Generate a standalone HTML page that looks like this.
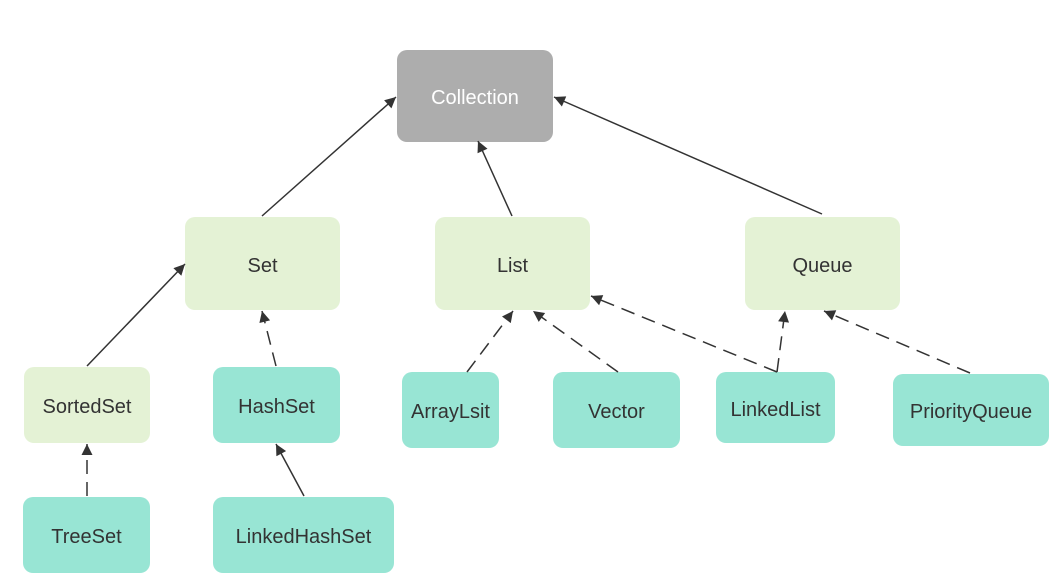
<!DOCTYPE html>
<html><head><style>
body{margin:0;width:1064px;height:583px;background:#fff;position:relative;overflow:hidden;font-family:"Liberation Sans",sans-serif}
.n{position:absolute;border-radius:10px;display:flex;align-items:center;justify-content:center;font-size:20px;color:#333;box-sizing:border-box;padding-top:5px}
.g{background:#e4f2d5}.t{background:#98e5d4}
svg{position:absolute;left:0;top:0}
</style></head><body>
<div class="n" style="left:397px;top:50px;width:156px;height:92px;background:#adadad;color:#fff">Collection</div>
<div class="n g" style="left:185px;top:217px;width:155px;height:93px">Set</div>
<div class="n g" style="left:435px;top:217px;width:155px;height:93px">List</div>
<div class="n g" style="left:745px;top:217px;width:155px;height:93px">Queue</div>
<div class="n g" style="left:24px;top:367px;width:126px;height:76px">SortedSet</div>
<div class="n t" style="left:213px;top:367px;width:127px;height:76px">HashSet</div>
<div class="n t" style="left:23px;top:497px;width:127px;height:76px">TreeSet</div>
<div class="n t" style="left:213px;top:497px;width:181px;height:76px">LinkedHashSet</div>
<div class="n t" style="left:402px;top:372px;width:97px;height:76px">ArrayLsit</div>
<div class="n t" style="left:553px;top:372px;width:127px;height:76px">Vector</div>
<div class="n t" style="left:716px;top:372px;width:119px;height:71px">LinkedList</div>
<div class="n t" style="left:893px;top:374px;width:156px;height:72px">PriorityQueue</div>
<svg width="1064" height="583">
<defs><marker id="a" viewBox="0 0 10 10" refX="10" refY="5" markerWidth="12" markerHeight="11" orient="auto" markerUnits="userSpaceOnUse"><path d="M0,0L10,5L0,10z" fill="#333"/></marker></defs>
<g stroke="#333" stroke-width="1.5" fill="none" marker-end="url(#a)">
<line x1="262" y1="216" x2="396" y2="97"/>
<line x1="512" y1="216" x2="478" y2="141"/>
<line x1="822" y1="214" x2="554" y2="97"/>
<line x1="87" y1="366" x2="185" y2="264"/>
<line x1="304" y1="496" x2="276" y2="444"/>
</g>
<g stroke="#333" stroke-width="1.5" fill="none" stroke-dasharray="14,8" marker-end="url(#a)">
<line x1="276" y1="366" x2="262" y2="311"/>
<line x1="87" y1="496" x2="87" y2="444"/>
<line x1="467" y1="372" x2="513" y2="311"/>
<line x1="618" y1="372" x2="533" y2="311"/>
<line x1="777" y1="372" x2="591" y2="296"/>
<line x1="777" y1="372" x2="785" y2="311"/>
<line x1="970" y1="373" x2="824" y2="311"/>
</g>
</svg>
</body></html>
